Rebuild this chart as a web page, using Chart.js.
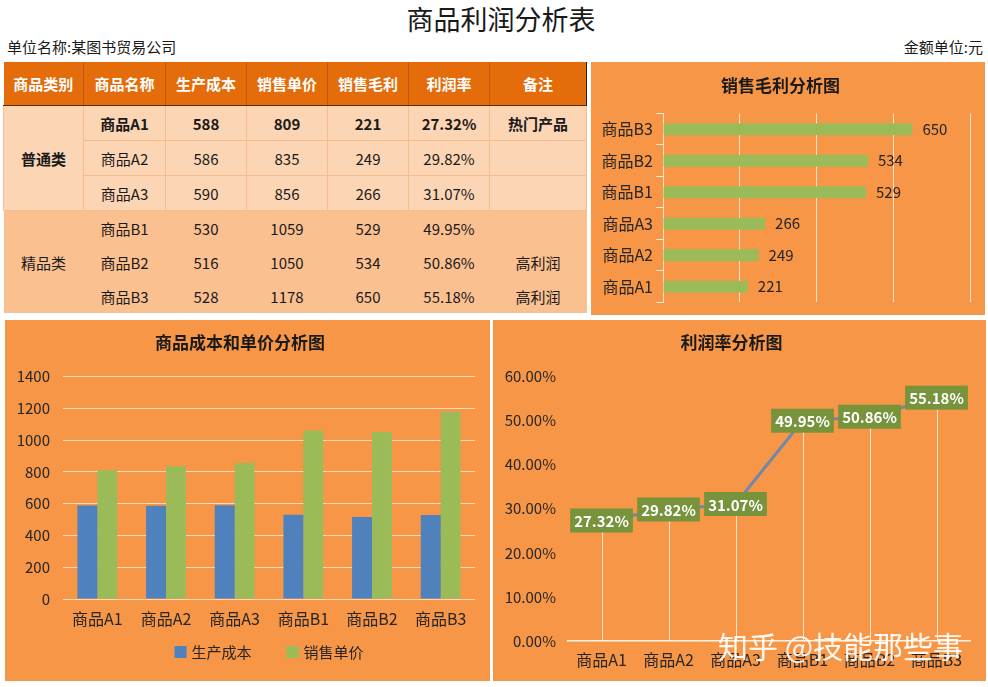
<!DOCTYPE html>
<html lang="zh-CN">
<head>
<meta charset="utf-8">
<title>商品利润分析表</title>
<script src="https://cdn.jsdelivr.net/npm/chart.js@4.4.1/dist/chart.umd.min.js"></script>
<style>
  html, body { margin: 0; padding: 0; }
  body {
    width: 988px; height: 687px; position: relative; overflow: hidden;
    background: #fff; color: #1a1a1a;
    font-family: "Noto Sans CJK SC", sans-serif;
  }
  .page-title { position: absolute; left: 14px; top: 0; width: 974px; text-align: center; font-size: 27px; line-height: 38px; }
  .unit-left { position: absolute; left: 7px; top: 37px; font-size: 15px; line-height: 20px; }
  .unit-right { position: absolute; right: 5px; top: 37px; font-size: 15px; line-height: 20px; }
  .panel { position: absolute; background: #F79646; }
  .panel canvas { display: block; }
  #top-right { left: 591px; top: 62px; width: 394px; height: 253px; }
  #bottom-left { left: 5px; top: 320px; width: 485px; height: 361px; }
  #bottom-right { left: 493px; top: 320px; width: 493px; height: 361px; }

  table.profit { position: absolute; left: 3px; top: 62px; border-collapse: collapse; table-layout: fixed; width: 583px; }
  table.profit th {
    height: 43px; background: #E46C0A; color: #fff; font-size: 15px; font-weight: bold;
    border-right: 1px solid #C0580A; border-bottom: 1px solid #5a2a00; padding: 0;
  }
  table.profit th:last-child { border-right: 1px solid #222; }
  table.profit td { height: 34px; text-align: center; font-size: 15px; padding: 0; }
  table.profit tr.normal td { background: #FCD5B4; border: 1px solid #F6BC8C; }
  table.profit tr.premium td { background: #FAC090; border: none; }
  table.profit tr.hot td { font-weight: bold; }
  table.profit td.group-normal { font-weight: bold; }
  .watermark {
    position: absolute; left: 718px; top: 627px; font-size: 30px; line-height: 36px;
    color: rgba(255,255,255,0.93); pointer-events: none; z-index: 5; white-space: nowrap;
  }
</style>
</head>
<body>
<div class="page-title">商品利润分析表</div>
<div class="unit-left">单位名称:某图书贸易公司</div>
<div class="unit-right">金额单位:元</div>

<table class="profit" id="profitTable">
  <colgroup>
    <col style="width:80px"><col style="width:82px"><col style="width:81px"><col style="width:81px">
    <col style="width:81px"><col style="width:81px"><col style="width:97px">
  </colgroup>
  <thead></thead>
  <tbody></tbody>
</table>

<div class="panel" id="top-right"><canvas id="grossChart"></canvas></div>
<div class="panel" id="bottom-left"><canvas id="costChart"></canvas></div>
<div class="panel" id="bottom-right"><canvas id="rateChart"></canvas></div>
<div class="watermark">知乎 @技能那些事</div>

<script>
const headers = ["商品类别", "商品名称", "生产成本", "销售单价", "销售毛利", "利润率", "备注"];
const products = ["商品A1", "商品A2", "商品A3", "商品B1", "商品B2", "商品B3"];
const productGroups = ["普通类", "普通类", "普通类", "精品类", "精品类", "精品类"];
const costs = [588, 586, 590, 530, 516, 528];
const prices = [809, 835, 856, 1059, 1050, 1178];
const grossProfits = [221, 249, 266, 529, 534, 650];
const profitRates = [27.32, 29.82, 31.07, 49.95, 50.86, 55.18];
const notes = ["热门产品", "", "", "", "高利润", "高利润"];

const grossTicks = [0, 200, 400, 600, 800];
const costTicks = [0, 200, 400, 600, 800, 1000, 1200, 1400];
const rateTicks = [0, 10, 20, 30, 40, 50, 60];

const BLUE = "#4F81BD";
const GREEN = "#9BBB59";
const DARK_GREEN = "#77933C";
const GRID = "#FAD9BC";
const TEXT = "#262626";
const FONT = '"Noto Sans CJK SC", sans-serif';

// ---- table ----
document.querySelector("#profitTable thead").innerHTML =
  "<tr>" + headers.map((h) => `<th>${h}</th>`).join("") + "</tr>";

const tbody = document.querySelector("#profitTable tbody");
products.forEach((name, i) => {
  const tr = document.createElement("tr");
  tr.className = productGroups[i] === "普通类" ? "normal" : "premium";
  if (i === 0) tr.classList.add("hot");
  let html = "";
  if (i === 0 || productGroups[i] !== productGroups[i - 1]) {
    const span = productGroups.filter((g) => g === productGroups[i]).length;
    const cls = productGroups[i] === "普通类" ? "group-normal" : "group-premium";
    html += `<td rowspan="${span}" class="${cls}">${productGroups[i]}</td>`;
  }
  html += `<td>${name}</td><td>${costs[i]}</td><td>${prices[i]}</td><td>${grossProfits[i]}</td>`;
  html += `<td>${profitRates[i].toFixed(2)}%</td><td>${notes[i]}</td>`;
  tr.innerHTML = html;
  tbody.appendChild(tr);
});

// ---- charts ----
Chart.defaults.font.family = FONT;
Chart.defaults.color = TEXT;
Chart.defaults.animation = false;

function chartTitle(text) {
  return { display: true, text, color: "#1a1a1a", font: { size: 17, weight: "bold" }, padding: { top: 12, bottom: 24 } };
}

// value labels at the end of horizontal bars
const barValueLabels = {
  id: "barValueLabels",
  afterDatasetsDraw(chart) {
    const { ctx } = chart;
    const meta = chart.getDatasetMeta(0);
    ctx.save();
    ctx.font = `15px ${FONT}`;
    ctx.fillStyle = TEXT;
    ctx.textBaseline = "middle";
    meta.data.forEach((bar, i) => ctx.fillText(chart.data.datasets[0].data[i], bar.x + 10, bar.y));
    ctx.restore();
  }
};

// legend row under the cost chart
const legendRow = {
  id: "legendRow",
  afterDraw(chart) {
    const { ctx, chartArea } = chart;
    const y = chart.height - 29;
    ctx.save();
    ctx.font = `15px ${FONT}`;
    ctx.textBaseline = "middle";
    const items = chart.data.datasets.map((ds) => ({ label: ds.label, color: ds.backgroundColor, w: 17 + ctx.measureText(ds.label).width }));
    const gap = 35;
    const total = items.reduce((s, it) => s + it.w, 0) + gap * (items.length - 1);
    let x = (chartArea.left + chartArea.right) / 2 - total / 2;
    items.forEach((it) => {
      ctx.fillStyle = it.color;
      ctx.fillRect(x, y - 6, 12, 12);
      ctx.fillStyle = TEXT;
      ctx.fillText(it.label, x + 17, y);
      x += it.w + gap;
    });
    ctx.restore();
  }
};

// drop lines and boxed labels on the profit rate line
const rateLabels = {
  id: "rateLabels",
  beforeDatasetsDraw(chart) {
    const { ctx, scales } = chart;
    const base = scales.y.getPixelForValue(0);
    ctx.save();
    ctx.strokeStyle = "rgba(255,238,220,0.9)";
    ctx.lineWidth = 1;
    chart.getDatasetMeta(0).data.forEach((pt) => {
      ctx.beginPath();
      ctx.moveTo(Math.round(pt.x) + 0.5, pt.y);
      ctx.lineTo(Math.round(pt.x) + 0.5, base);
      ctx.stroke();
    });
    ctx.restore();
  },
  afterDatasetsDraw(chart) {
    const { ctx } = chart;
    ctx.save();
    ctx.font = `bold 15px ${FONT}`;
    ctx.textAlign = "center";
    ctx.textBaseline = "middle";
    chart.getDatasetMeta(0).data.forEach((pt, i) => {
      const text = chart.data.datasets[0].data[i].toFixed(2) + "%";
      const w = ctx.measureText(text).width + 8;
      ctx.fillStyle = DARK_GREEN;
      ctx.fillRect(pt.x - w / 2, pt.y - 12, w, 24);
      ctx.fillStyle = "#fff";
      ctx.fillText(text, pt.x, pt.y + 1);
    });
    ctx.restore();
  }
};

new Chart(document.getElementById("grossChart"), {
  type: "bar",
  data: {
    labels: products,
    datasets: [{ label: "销售毛利", data: grossProfits, backgroundColor: GREEN, barPercentage: 0.38, categoryPercentage: 1 }]
  },
  options: {
    indexAxis: "y",
    responsive: true,
    maintainAspectRatio: false,
    layout: { padding: { left: 0, right: 15, top: 0, bottom: 12 } },
    plugins: {
      legend: { display: false },
      tooltip: { enabled: false },
      title: { ...chartTitle("销售毛利分析图"), padding: { top: 13, bottom: 18 } }
    },
    scales: {
      x: {
        min: grossTicks[0], max: grossTicks[grossTicks.length - 1],
        afterBuildTicks: (scale) => { scale.ticks = grossTicks.map((v) => ({ value: v })); },
        ticks: { display: false },
        grid: { color: "#FCE4CF", drawTicks: false },
        border: { display: false },
        afterFit: (scale) => { scale.height = 0; }
      },
      y: {
        reverse: true,
        ticks: { font: { size: 16 }, color: TEXT, padding: 3 },
        grid: { drawOnChartArea: false, drawTicks: true, tickLength: 7, color: "#FCE4CF", offset: true },
        border: { display: true, color: "#FCE4CF" },
        afterFit: (scale) => { scale.width = 72; }
      }
    }
  },
  plugins: [barValueLabels]
});

new Chart(document.getElementById("costChart"), {
  type: "bar",
  data: {
    labels: products,
    datasets: [
      { label: "生产成本", data: costs, backgroundColor: BLUE, barPercentage: 1, categoryPercentage: 0.58 },
      { label: "销售单价", data: prices, backgroundColor: GREEN, barPercentage: 1, categoryPercentage: 0.58 }
    ]
  },
  options: {
    responsive: true,
    maintainAspectRatio: false,
    layout: { padding: { left: 0, right: 15, top: 0, bottom: 42 } },
    plugins: {
      legend: { display: false },
      tooltip: { enabled: false },
      title: chartTitle("商品成本和单价分析图")
    },
    scales: {
      x: {
        ticks: { font: { size: 16 }, color: TEXT, padding: 10 },
        grid: { display: false, drawTicks: false },
        border: { display: false },
        afterFit: (scale) => { scale.height = 40; }
      },
      y: {
        min: costTicks[0], max: costTicks[costTicks.length - 1],
        afterBuildTicks: (scale) => { scale.ticks = costTicks.map((v) => ({ value: v })); },
        ticks: { font: { size: 15 }, color: TEXT, padding: 13, callback: (v) => String(v) },
        grid: { color: GRID, drawTicks: false },
        border: { display: false },
        afterFit: (scale) => { scale.width = 58; }
      }
    }
  },
  plugins: [legendRow]
});

new Chart(document.getElementById("rateChart"), {
  type: "line",
  data: {
    labels: products,
    datasets: [{ label: "利润率", data: profitRates, borderColor: "#7387A8", borderWidth: 3, pointRadius: 0, tension: 0 }]
  },
  options: {
    responsive: true,
    maintainAspectRatio: false,
    layout: { padding: { left: 0, right: 16, top: 0, bottom: 0 } },
    plugins: {
      legend: { display: false },
      tooltip: { enabled: false },
      title: chartTitle("利润率分析图")
    },
    scales: {
      x: {
        offset: true,
        ticks: { font: { size: 16 }, color: TEXT, padding: 9 },
        grid: { display: false, drawTicks: false },
        border: { display: true, color: "#FFF3E6", width: 1.5 },
        afterFit: (scale) => { scale.height = 40; }
      },
      y: {
        min: rateTicks[0], max: rateTicks[rateTicks.length - 1],
        afterBuildTicks: (scale) => { scale.ticks = rateTicks.map((v) => ({ value: v })); },
        ticks: { font: { size: 15 }, color: TEXT, padding: 12, callback: (v) => v.toFixed(2) + "%" },
        grid: { display: false, drawTicks: false },
        border: { display: false },
        afterFit: (scale) => { scale.width = 75; }
      }
    }
  },
  plugins: [rateLabels]
});
</script>
</body>
</html>
